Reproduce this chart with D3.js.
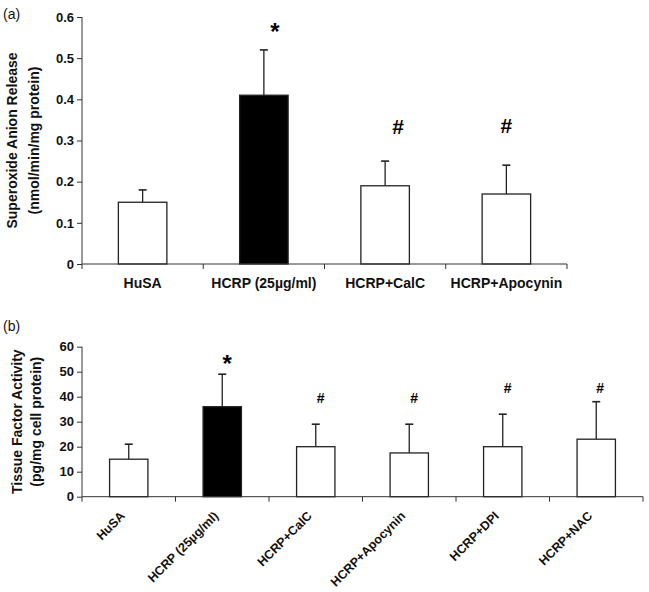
<!DOCTYPE html>
<html>
<head>
<meta charset="utf-8">
<script src="https://cdn.jsdelivr.net/npm/d3@7"></script>
<style>
  body { margin: 0; background: #fff; }
  svg { display: block; font-family: "Liberation Sans", Arial, sans-serif; }
</style>
</head>
<body>
<svg id="chart" width="649" height="592"></svg>
<script>
// ---------- Data ----------
// Panel (a): superoxide anion release
const catsA = ["HuSA", "HCRP (25\u00b5g/ml)", "HCRP+CalC", "HCRP+Apocynin"];
const valsA = [0.15, 0.41, 0.19, 0.17];
const errA  = [0.03, 0.11, 0.06, 0.07];
const sigA  = ["", "*", "#", "#"];
const sigLevelA = [null, 0.545, 0.315, 0.318];
const ticksA = [0, 0.1, 0.2, 0.3, 0.4, 0.5, 0.6];

// Panel (b): tissue factor activity
const catsB = ["HuSA", "HCRP (25\u00b5g/ml)", "HCRP+CalC", "HCRP+Apocynin", "HCRP+DPI", "HCRP+NAC"];
const valsB = [15, 36, 20, 17.5, 20, 23];
const errB  = [6, 13, 9, 11.5, 13, 15];
const sigB  = ["", "*", "#", "#", "#", "#"];
const sigLevelB = [null, 50, 37.5, 37.5, 41.5, 41.5];
const ticksB = [0, 10, 20, 30, 40, 50, 60];

// ---------- Layout / style ----------
const svg = d3.select("#chart");
const axisColor = "#333";

function panel(cfg) {
  const g = svg.append("g");
  const x = d3.scaleBand().domain(cfg.cats).range([cfg.x0, cfg.x1]).paddingInner(0).paddingOuter(0);
  const y = d3.scaleLinear().domain([0, cfg.ymax]).range([cfg.yBottom, cfg.yTop]);
  const bw = x.bandwidth() * cfg.barFrac;
  const cx = c => x(c) + x.bandwidth() / 2;

  // error bars (upper only)
  cfg.cats.forEach((c, i) => {
    const top = cfg.vals[i] + cfg.err[i];
    g.append("line").attr("x1", cx(c)).attr("x2", cx(c))
      .attr("y1", y(cfg.vals[i])).attr("y2", y(top))
      .attr("stroke", "#222").attr("stroke-width", 1.3);
    g.append("line").attr("x1", cx(c) - 4).attr("x2", cx(c) + 4)
      .attr("y1", y(top)).attr("y2", y(top))
      .attr("stroke", "#222").attr("stroke-width", 1.6);
  });

  // bars
  g.selectAll("rect.bar").data(cfg.cats).enter().append("rect")
    .attr("class", "bar")
    .attr("x", c => cx(c) - bw / 2)
    .attr("width", bw)
    .attr("y", (c, i) => y(cfg.vals[i]))
    .attr("height", (c, i) => y(0) - y(cfg.vals[i]))
    .attr("fill", (c, i) => i === 1 ? "#000" : "#fff")
    .attr("stroke", "#222").attr("stroke-width", 1.3);

  // y axis
  const yAxis = d3.axisLeft(y).tickValues(cfg.ticks).tickSize(5).tickPadding(3)
    .tickFormat(cfg.fmt);
  const ya = g.append("g").attr("transform", `translate(${cfg.x0},0)`).call(yAxis);
  ya.select(".domain").attr("stroke", axisColor).attr("d", `M-0,${cfg.yBottom}V${cfg.yTop}`);
  ya.selectAll(".tick line").attr("stroke", axisColor);
  ya.selectAll(".tick text").attr("fill", "#111").style("font-size", cfg.tickFont + "px")
    .style("font-weight", "bold");

  // x axis
  const xAxis = d3.axisBottom(x).tickSize(0).tickFormat("");
  const xa = g.append("g").attr("transform", `translate(0,${cfg.yBottom})`).call(xAxis);
  xa.select(".domain").attr("stroke", axisColor).attr("d", `M${cfg.x0},0H${cfg.x1}`);
  xa.selectAll(".tick").remove();
  // boundary ticks
  const bounds = cfg.cats.map(c => x(c)).concat([cfg.x1]);
  xa.selectAll("line.bt").data(bounds).enter().append("line")
    .attr("x1", d => d).attr("x2", d => d).attr("y1", 0).attr("y2", 5)
    .attr("stroke", axisColor);

  // category labels
  if (cfg.rotate) {
    g.selectAll("text.cat").data(cfg.cats).enter().append("text")
      .attr("transform", c => `translate(${cx(c) - 3},${cfg.yBottom + 20}) rotate(-45)`)
      .attr("text-anchor", "end")
      .style("font-size", cfg.catFont + "px").style("font-weight", "bold")
      .attr("fill", "#111").text(c => c);
  } else {
    g.selectAll("text.cat").data(cfg.cats).enter().append("text")
      .attr("x", c => cx(c)).attr("y", cfg.yBottom + 24)
      .attr("text-anchor", "middle")
      .style("font-size", cfg.catFont + "px").style("font-weight", "bold")
      .attr("fill", "#111").text(c => c);
  }

  // significance marks
  cfg.cats.forEach((c, i) => {
    if (!cfg.sig[i]) return;
    const isStar = cfg.sig[i] === "*";
    g.append("text")
      .attr("x", cx(c) + cfg.sigDx[i]).attr("y", y(cfg.sigLevel[i]))
      .attr("text-anchor", "middle")
      .style("font-size", (isStar ? cfg.starFont : cfg.hashFont) + "px")
      .style("font-weight", "bold").attr("fill", "#000")
      .text(cfg.sig[i]);
  });

  // y title
  const midY = (cfg.yTop + cfg.yBottom) / 2;
  cfg.title.forEach((t, k) => {
    g.append("text")
      .attr("transform", `translate(${cfg.titleX[k]},${midY}) rotate(-90)`)
      .attr("text-anchor", "middle")
      .style("font-size", "14px").style("font-weight", "bold").attr("fill", "#111")
      .text(t);
  });

  // panel label
  g.append("text").attr("x", 3).attr("y", cfg.labelY)
    .style("font-size", "14px").attr("fill", "#111").text(cfg.label);
}

panel({
  cats: catsA, vals: valsA, err: errA, sig: sigA, sigLevel: sigLevelA,
  sigDx: [0, 11, 13, 0],
  ticks: ticksA, ymax: 0.6, fmt: d => d === 0 ? "0" : d3.format(".1f")(d),
  x0: 82, x1: 567, yTop: 17, yBottom: 264, barFrac: 0.4,
  tickFont: 13, catFont: 14, starFont: 24, hashFont: 21, rotate: false,
  title: ["Superoxide Anion Release", "(nmol/min/mg protein)"], titleX: [17, 39],
  label: "(a)", labelY: 19
});

panel({
  cats: catsB, vals: valsB, err: errB, sig: sigB, sigLevel: sigLevelB,
  sigDx: [0, 5, 5, 5, 5, 4],
  ticks: ticksB, ymax: 60, fmt: d3.format("d"),
  x0: 82, x1: 643, yTop: 346.7, yBottom: 496.7, barFrac: 0.41,
  tickFont: 13, catFont: 12.5, starFont: 24, hashFont: 14, rotate: true,
  title: ["Tissue Factor Activity", "(pg/mg cell protein)"], titleX: [22, 41],
  label: "(b)", labelY: 331
});
</script>
</body>
</html>
